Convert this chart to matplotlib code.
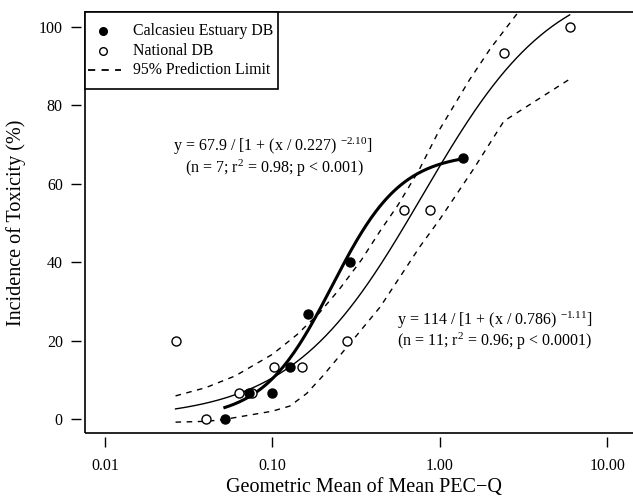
import numpy as np
import matplotlib
matplotlib.use("Agg")
import matplotlib.pyplot as plt
from matplotlib.patches import Rectangle

plt.rcParams['font.family'] = ['Liberation Serif', 'DejaVu Serif']
plt.rcParams['mathtext.fontset'] = 'custom'
plt.rcParams['mathtext.rm'] = 'Liberation Serif'
plt.rcParams['mathtext.it'] = 'Liberation Serif:italic'

# Calcasieu Estuary DB (filled)
calc_x = [0.052, 0.072, 0.100, 0.127, 0.164, 0.290, 1.38]
calc_y = [0.0, 6.7, 6.7, 13.3, 26.7, 40.0, 66.7]
# National DB (open)
nat_x = [0.0264, 0.0403, 0.063, 0.076, 0.102, 0.151, 0.278, 0.612, 0.877, 2.41, 5.95]
nat_y = [20.0, 0.0, 6.7, 6.7, 13.3, 13.3, 20.0, 53.3, 53.3, 93.3, 100.0]

# fitted model parameters (from the equations on the chart)
calc_a, calc_b, calc_c = 67.9, 0.227, -2.10
nat_a, nat_b, nat_c = 114.0, 0.786, -1.11

# 95% prediction limits
up_x = [0.0264, 0.04, 0.06, 0.10, 0.14, 0.19, 0.25, 0.34, 0.44, 0.56, 0.75, 1.0, 1.5, 2.0, 2.96]
up_y = [5.9, 8.0, 11.0, 16.5, 21.5, 27.0, 33.0, 40.6, 48.0, 54.5, 63.5, 74.0, 86.5, 94.5, 104.0]
lo_x = [0.0264, 0.04, 0.05, 0.073, 0.10, 0.127, 0.16, 0.20, 0.30, 0.44, 0.76, 1.0, 1.6, 2.41, 5.95]
lo_y = [-0.8, -0.6, -0.2, 1.0, 2.0, 3.3, 6.5, 11.0, 20.0, 28.6, 44.0, 51.0, 64.0, 76.0, 86.7]

xticks = [0.01, 0.1, 1.0, 10.0]
xticklabels = ['0.01', '0.10', '1.00', '10.00']
yticks = [0, 20, 40, 60, 80, 100]
legend_labels = ['Calcasieu Estuary DB', 'National DB', '95% Prediction Limit']

W, H = 633, 496
AX_L, AX_T, AX_W, AX_H = 85, 12, 558, 421

fig = plt.figure(figsize=(W / 100, H / 100), dpi=100)
ax = fig.add_axes([AX_L / W, (H - AX_T - AX_H) / H, AX_W / W, AX_H / H])
ax.set_xscale('log')
ax.set_xlim(10**-2.119, 10**(-2.119 + AX_W / 167.5))
ax.set_ylim(-3.57, 103.83)

def logistic(x, a, b, c):
    x = np.asarray(x)
    return a / (1 + (x / b) ** c)

xs_c = np.logspace(np.log10(calc_x[0]), np.log10(calc_x[-1]), 200)
xs_n = np.logspace(np.log10(nat_x[0]), np.log10(nat_x[-1]), 200)

dash = (0, (4, 4))
ax.plot(xs_n, logistic(xs_n, nat_a, nat_b, nat_c), color='black', lw=1.0, zorder=2)
ax.plot(xs_c, logistic(xs_c, calc_a, calc_b, calc_c), color='black', lw=2.2, zorder=2)
ax.plot(up_x, up_y, color='black', lw=1.0, ls=dash, zorder=2)
ax.plot(lo_x, lo_y, color='black', lw=1.0, ls=dash, zorder=2)

ax.plot(nat_x, nat_y, ls='none', marker='o', ms=6.5, mfc='white', mec='black', mew=1.0, zorder=3)
ax.plot(calc_x, calc_y, ls='none', marker='o', ms=6.5, mfc='black', mec='black', zorder=4)

for s in ['left', 'bottom']:
    ax.spines[s].set_position(('outward', 3))
    ax.spines[s].set_visible(False)
for s in ['top', 'right']:
    ax.spines[s].set_visible(False)
ax.add_patch(Rectangle((0, 0), 1.2, 1, transform=ax.transAxes, fill=False,
                       ec='black', lw=1.2, clip_on=False, zorder=5))

ax.set_xticks(xticks)
ax.set_xticklabels(xticklabels)
ax.minorticks_off()
ax.set_yticks(yticks)
ax.tick_params(axis='both', direction='out', length=7, width=1.0, labelsize=11.5, pad=6)
ax.tick_params(axis='x', pad=8)

ax.set_xlabel('Geometric Mean of Mean PEC\u2212Q', fontsize=14.5, labelpad=3)
ax.set_ylabel('Incidence of Toxicity (%)', fontsize=14.5, labelpad=9)

def fx(px):
    return (px - AX_L) / AX_W

def fy(py):
    return 1 - (py - AX_T) / AX_H

ax.text(fx(273), fy(146), r'y = 67.9 / [1 + (x / 0.227) $^{\mathrm{-2.10}}$]', transform=ax.transAxes,
        ha='center', va='center', fontsize=11.5)
ax.text(fx(275), fy(168), r'(n = 7; r$^{\mathrm{2}}$ = 0.98; p < 0.001)', transform=ax.transAxes,
        ha='center', va='center', fontsize=11.5)
ax.text(fx(397), fy(320), r'y = 114 / [1 + (x / 0.786) $^{\mathrm{-1.11}}$]', transform=ax.transAxes,
        ha='left', va='center', fontsize=11.5)
ax.text(fx(397), fy(341), r'(n = 11; r$^{\mathrm{2}}$ = 0.96; p < 0.0001)', transform=ax.transAxes,
        ha='left', va='center', fontsize=11.5)

# legend (drawn manually to match box geometry)
ax.add_patch(Rectangle((0, fy(89)), fx(278), 1 - fy(89), transform=ax.transAxes,
                       facecolor='white', edgecolor='black', lw=1.2, clip_on=False, zorder=6))
rows = [fy(31), fy(51), fy(70)]
ax.plot([fx(103)], [rows[0]], transform=ax.transAxes, ls='none', marker='o', ms=5.5,
        mfc='black', mec='black', zorder=7, clip_on=False)
ax.plot([fx(103)], [rows[1]], transform=ax.transAxes, ls='none', marker='o', ms=5.5,
        mfc='white', mec='black', mew=1.0, zorder=7, clip_on=False)
ax.plot([fx(88), fx(121)], [rows[2], rows[2]], transform=ax.transAxes, color='black',
        lw=1.3, ls=(0, (4, 3.5)), zorder=7, clip_on=False)
for lab, ry in zip(legend_labels, rows):
    ax.text(fx(133), ry, lab, transform=ax.transAxes, ha='left', va='center',
            fontsize=11.4, zorder=7)

fig.savefig('out.png', dpi=100)
